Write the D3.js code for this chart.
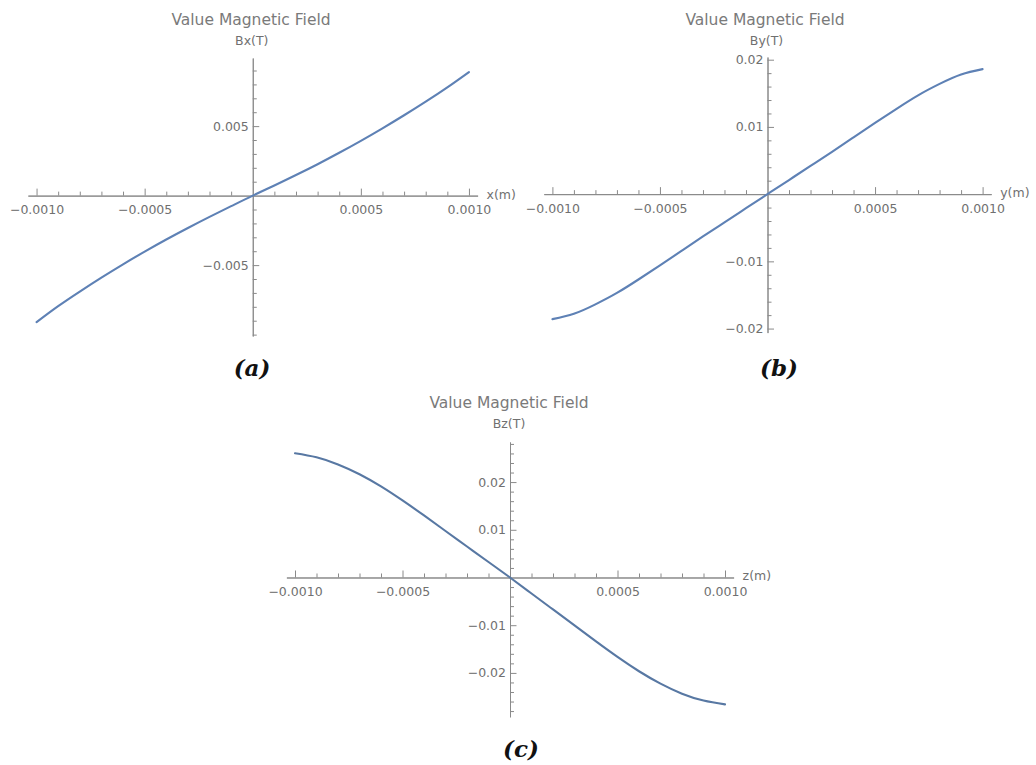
<!DOCTYPE html>
<html>
<head>
<meta charset="utf-8">
<script src="https://cdn.jsdelivr.net/npm/d3@7"></script>
<style>
  body { margin: 0; background: #fff; }
  svg { display: block; }
</style>
</head>
<body>
<svg id="chart" width="1036" height="765"></svg>
<script>
// Sample positions along each axis (m)
const positions = [-0.0010, -0.0009, -0.0008, -0.0007, -0.0006, -0.0005, -0.0004, -0.0003, -0.0002, -0.0001, 0,
                   0.0001, 0.0002, 0.0003, 0.0004, 0.0005, 0.0006, 0.0007, 0.0008, 0.0009, 0.0010];

// Field components (T) at those positions
const bxValues = [-0.00910, -0.00795, -0.00690, -0.00590, -0.00494, -0.00403, -0.00316, -0.00233, -0.00153, -0.00076, 0,
                  0.00073, 0.00148, 0.00226, 0.00308, 0.00394, 0.00484, 0.00578, 0.00676, 0.00779, 0.00889];
const byValues = [-0.01860, -0.01780, -0.01640, -0.01470, -0.01270, -0.01060, -0.00845, -0.00630, -0.00420, -0.00210, 0,
                  0.00210, 0.00420, 0.00630, 0.00845, 0.01060, 0.01270, 0.01470, 0.01640, 0.01780, 0.01860];
const bzValues = [0.02605, 0.02520, 0.02370, 0.02165, 0.01910, 0.01615, 0.01300, 0.00975, 0.00650, 0.00325, 0,
                  -0.00335, -0.00670, -0.01005, -0.01340, -0.01665, -0.01965, -0.02225, -0.02435, -0.02580, -0.02660];

// Tick values and their labels
const posTickValues = [-0.0010, -0.0005, 0.0005, 0.0010];
const posTickLabels = ["\u22120.0010", "\u22120.0005", "0.0005", "0.0010"];
const bxTickValues = [-0.005, 0.005];
const bxTickLabels = ["\u22120.005", "0.005"];
const byTickValues = [-0.02, -0.01, 0.01, 0.02];
const byTickLabels = ["\u22120.02", "\u22120.01", "0.01", "0.02"];
const bzTickValues = [-0.02, -0.01, 0.01, 0.02];
const bzTickLabels = ["\u22120.02", "\u22120.01", "0.01", "0.02"];

const plotTitle = "Value Magnetic Field";
const positionLabels = ["x(m)", "y(m)", "z(m)"];
const fieldLabels = ["Bx(T)", "By(T)", "Bz(T)"];
const panelTags = ["(a)", "(b)", "(c)"];

const svg = d3.select("#chart");

const panels = [
  {
    values: bxValues, yTicks: bxTickValues, yLabels: bxTickLabels, minorStep: 0.001,
    xDomain: [-0.00104, 0.00104], xRange: [27.9, 477.6],
    yDomain: [-0.0101, 0.0099], yRange: [336, 58],
    posLabel: positionLabels[0], fieldLabel: fieldLabels[0], tag: panelTags[0],
    titleX: 251, tagX: 252, tagY: 376, color: "#5E81B5"
  },
  {
    values: byValues, yTicks: byTickValues, yLabels: byTickLabels, minorStep: 0.002,
    xDomain: [-0.00104, 0.00104], xRange: [543.8, 991.2],
    yDomain: [-0.0206, 0.0204], yRange: [332.6, 57],
    posLabel: positionLabels[1], fieldLabel: fieldLabels[1], tag: panelTags[1],
    titleX: 765, tagX: 779, tagY: 376, color: "#5E81B5"
  },
  {
    values: bzValues, yTicks: bzTickValues, yLabels: bzTickLabels, minorStep: 0.002,
    xDomain: [-0.00104, 0.00104], xRange: [286.4, 733.6],
    yDomain: [-0.0292, 0.0284], yRange: [716.8, 442],
    posLabel: positionLabels[2], fieldLabel: fieldLabels[2], tag: panelTags[2],
    titleX: 509, titleY: 408, tagX: 521, tagY: 757, color: "#5878A3"
  }
];

const axisColor = "#8a8a8a";
const textColor = "#707070";
const font = "'DejaVu Sans', sans-serif";

function styleAxis(g) {
  g.attr("font-family", null).attr("font-size", null);
  g.selectAll("path.domain").attr("stroke", axisColor).attr("stroke-width", 1);
  g.selectAll(".tick line").attr("stroke", axisColor).attr("stroke-width", 1);
  g.selectAll(".tick text")
    .attr("fill", textColor)
    .style("font-family", font)
    .style("font-size", "12.5px");
}

panels.forEach(p => {
  const x = d3.scaleLinear().domain(p.xDomain).range(p.xRange);
  const y = d3.scaleLinear().domain(p.yDomain).range(p.yRange);
  const x0 = x(0), y0 = y(0);
  const g = svg.append("g");

  // minor ticks along the position axis
  const xMinor = d3.range(-10, 11).filter(i => i !== 0 && i % 5 !== 0).map(i => i * 0.0001);
  g.append("g")
    .attr("transform", `translate(0,${y0})`)
    .call(d3.axisBottom(x).tickValues(xMinor).tickSize(-4).tickSizeOuter(0).tickFormat(""))
    .call(styleAxis);

  // major ticks and labels along the position axis
  g.append("g")
    .attr("transform", `translate(0,${y0})`)
    .call(d3.axisBottom(x).tickValues(posTickValues).tickSize(-7).tickSizeOuter(0)
      .tickPadding(10).tickFormat((d, i) => posTickLabels[i]))
    .call(styleAxis);

  // minor ticks along the field axis
  const lo = Math.ceil(p.yDomain[0] / p.minorStep - 1e-6);
  const hi = Math.floor(p.yDomain[1] / p.minorStep + 1e-6);
  const yMinor = d3.range(lo, hi + 1).filter(i => i !== 0).map(i => i * p.minorStep)
    .filter(v => !p.yTicks.some(t => Math.abs(t - v) < 1e-9));
  g.append("g")
    .attr("transform", `translate(${x0},0)`)
    .call(d3.axisLeft(y).tickValues(yMinor).tickSize(-4).tickSizeOuter(0).tickFormat(""))
    .call(styleAxis);

  // major ticks and labels along the field axis
  g.append("g")
    .attr("transform", `translate(${x0},0)`)
    .call(d3.axisLeft(y).tickValues(p.yTicks).tickSize(-6.5).tickSizeOuter(0)
      .tickPadding(4).tickFormat((d, i) => p.yLabels[i]))
    .call(styleAxis);

  // field curve
  const line = d3.line()
    .x((d, i) => x(positions[i]))
    .y(d => y(d))
    .curve(d3.curveNatural);
  g.append("path")
    .datum(p.values)
    .attr("d", line)
    .attr("fill", "none")
    .attr("stroke", p.color)
    .attr("stroke-width", 2.1)
    .attr("stroke-linecap", "round");

  // axis names
  g.append("text")
    .attr("x", p.xRange[1] + 9)
    .attr("y", y0 + 3)
    .attr("fill", textColor)
    .style("font-family", font)
    .style("font-size", "12.5px")
    .text(p.posLabel);

  const titleY = p.titleY !== undefined ? p.titleY : 25;
  g.append("text")
    .attr("x", x0 - 1)
    .attr("y", titleY + 20)
    .attr("text-anchor", "middle")
    .attr("fill", textColor)
    .style("font-family", font)
    .style("font-size", "12.5px")
    .text(p.fieldLabel);

  g.append("text")
    .attr("x", p.titleX)
    .attr("y", titleY)
    .attr("text-anchor", "middle")
    .attr("fill", "#7a7a7a")
    .style("font-family", font)
    .style("font-size", "15.5px")
    .text(plotTitle);

  // panel tag
  g.append("text")
    .attr("x", p.tagX)
    .attr("y", p.tagY)
    .attr("text-anchor", "middle")
    .attr("fill", "#111")
    .style("font-family", "'DejaVu Serif', serif")
    .style("font-weight", "bold")
    .style("font-style", "italic")
    .style("font-size", "23px")
    .text(p.tag);
});
</script>
</body>
</html>
